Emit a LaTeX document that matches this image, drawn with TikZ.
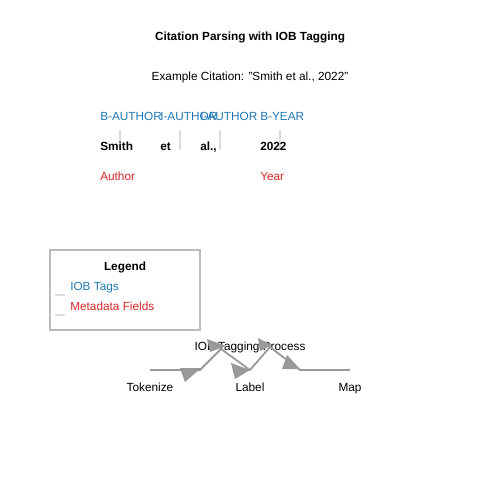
\documentclass[tikz,border=0pt]{standalone}
\usepackage{fontspec}
\setmainfont{Liberation Sans}
\definecolor{tagblue}{HTML}{1F77B4}
\definecolor{fieldred}{HTML}{D62728}
\definecolor{flowgray}{HTML}{999999}
\definecolor{tickgray}{HTML}{DDDDDD}
\definecolor{boxgray}{HTML}{BBBBBB}
\begin{document}
\begin{tikzpicture}[x=0.72pt,y=-0.72pt,
  every node/.style={font=\fontsize{8.5}{10}\selectfont,inner sep=0pt,anchor=base},
  heading/.style={font=\fontsize{8.5}{10}\selectfont\bfseries},
  tag/.style={anchor=base west,text=tagblue},
  token/.style={anchor=base west,heading},
  field/.style={anchor=base west,text=fieldred},
  flow/.style={draw=flowgray,line width=1.3pt,line join=miter},
  tip/.style={fill=flowgray}]
\useasboundingbox (0,0) rectangle (500,500);
\node [heading] (title) at (250,40) {Citation Parsing with IOB Tagging};
\node (example) at (250,80) {Example Citation: \char34 Smith et al., 2022\char34};
\begin{scope}
\foreach \x in {120,180,220,280}
  \draw [tickgray,line width=1.2pt] (\x,130) -- (\x,150);
\node [tag] (t1) at (100,120) {B-AUTHOR};
\node [tag] (t2) at (160,120) {I-AUTHOR};
\node [tag] (t3) at (200,120) {I-AUTHOR};
\node [tag] (t4) at (260,120) {B-YEAR};
\node [token] (w1) at (100,150) {Smith};
\node [token] (w2) at (160,150) {et};
\node [token] (w3) at (200,150) {al.,};
\node [token] (w4) at (260,150) {2022};
\node [field] (f1) at (100,180) {Author};
\node [field] (f4) at (260,180) {Year};
\end{scope}
% legend
\node [draw=boxgray,line width=1pt,anchor=center,minimum width=108pt,minimum height=57.6pt] (legend) at (125,290) {};
\node [heading] (legtitle) at (125,270) {Legend};
\node [tag] (legtag) at (70,290) {IOB Tags};
\node [field] (legfield) at (70,310) {Metadata Fields};
\draw [tickgray,line width=1pt] (55,295) -- (65,295);
\draw [tickgray,line width=1pt] (55,315) -- (65,315);
% process
\node (proc) at (250,350.5) {IOB Tagging Process};
\node (tokenize) at (150,391) {Tokenize};
\node (label) at (250,391) {Label};
\node (map) at (350,391) {Map};
\coordinate (a) at (150,370);
\coordinate (b) at (200,370);
\coordinate (c) at (221,349);
\coordinate (d) at (250,370);
\coordinate (e) at (270,347);
\coordinate (f) at (300,370);
\coordinate (g) at (350,370);
\draw [flow] (a) -- (b) -- (c) -- (d) -- (e) -- (f) -- (g);
\fill [tip] (180,368) -- (201,368) -- (185,382) -- cycle;
\fill [tip] (207,339) -- (226,346) -- (210,352) -- cycle;
\fill [tip] (231,363) -- (250,370) -- (235,379) -- cycle;
\fill [tip] (258,338) -- (272,345) -- (260,351) -- cycle;
\fill [tip] (287,355) -- (300,369) -- (282,369) -- cycle;
\end{tikzpicture}
\end{document}
